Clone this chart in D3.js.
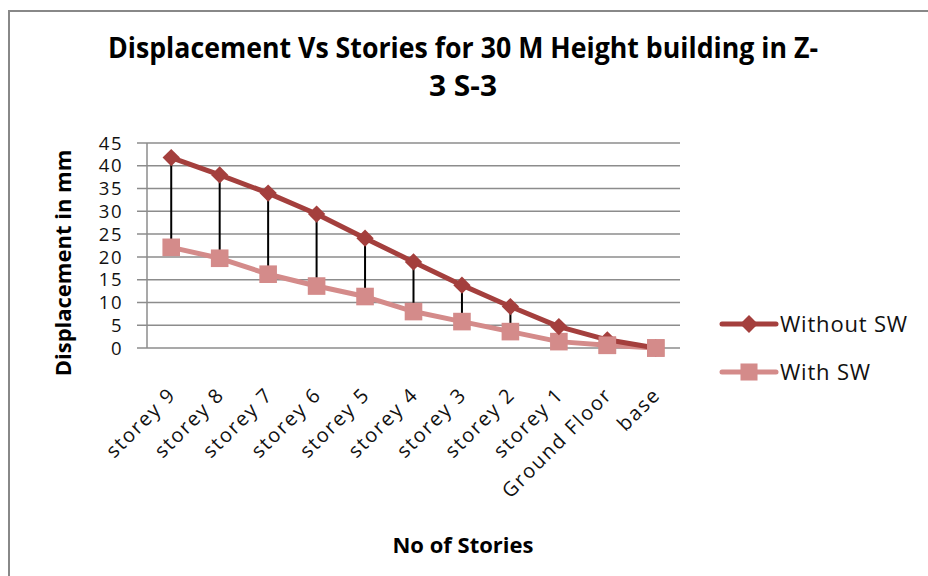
<!DOCTYPE html>
<meta charset="utf-8">
<script src="https://d3js.org/d3.v7.min.js"></script>
<style>
body { margin: 0; background: #fff; }
text { font-family: "Open Sans", sans-serif; }
</style>
<svg id="chart" width="928" height="576"></svg>
<script>
// chart data
const stories = ["storey 9", "storey 8", "storey 7", "storey 6", "storey 5", "storey 4",
                 "storey 3", "storey 2", "storey 1", "Ground Floor", "base"]
const withoutSW = [41.8, 38.0, 34.0, 29.4, 24.1, 18.9, 13.8, 9.1, 4.7, 1.8, 0]
const withSW = [22.1, 19.7, 16.2, 13.6, 11.3, 8.0, 5.8, 3.6, 1.4, 0.6, 0]
const yTicks = [0, 5, 10, 15, 20, 25, 30, 35, 40, 45]

const svg = d3.select("#chart")

// outer frame (cut off at right and bottom)
svg.append("rect")
  .attr("x", 9).attr("y", 11)
  .attr("width", 940).attr("height", 600)
  .attr("fill", "white").attr("stroke", "#888").attr("stroke-width", 2)

const x = d3.scaleBand().domain(stories).range([147, 680])
const y = d3.scaleLinear().domain([0, 45]).range([348, 143])
const cx = d => x(d) + x.bandwidth() / 2

// gridlines
svg.append("g")
  .selectAll("line")
  .data(yTicks)
  .join("line")
    .attr("x1", 137).attr("x2", 680)
    .attr("y1", d => y(d)).attr("y2", d => y(d))
    .attr("stroke", "#8c8c8c").attr("stroke-width", 1.5)

// y axis line
svg.append("line")
  .attr("x1", 147).attr("x2", 147)
  .attr("y1", y(45)).attr("y2", y(0))
  .attr("stroke", "#8c8c8c").attr("stroke-width", 1.5)

// y tick labels
svg.append("g")
  .selectAll("text")
  .data(yTicks)
  .join("text")
    .attr("x", 123).attr("y", d => y(d))
    .attr("dy", "0.36em")
    .attr("text-anchor", "end")
    .attr("font-family", "'Liberation Sans', Arial, sans-serif")
    .attr("font-size", 18.5)
    .attr("letter-spacing", 1.5)
    .attr("fill", "#111")
    .text(d => d)

// category labels
svg.append("g")
  .selectAll("text")
  .data(stories)
  .join("text")
    .attr("transform", d => `translate(${cx(d) + 6},${396}) rotate(-45)`)
    .attr("text-anchor", "end")
    .attr("font-size", 20)
    .attr("letter-spacing", 1.8)
    .attr("fill", "#111")
    .text(d => d)

// high-low lines
svg.append("g")
  .selectAll("line")
  .data(stories)
  .join("line")
    .attr("x1", d => cx(d)).attr("x2", d => cx(d))
    .attr("y1", (d, i) => y(withoutSW[i])).attr("y2", (d, i) => y(withSW[i]))
    .attr("stroke", "#000").attr("stroke-width", 2)

const line = d3.line().x(d => cx(d[0])).y(d => y(d[1]))
const colWithout = "#a43f3d"
const colWith = "#d48b8a"

function drawSeries(vals, color, size, rot) {
  const pts = stories.map((s, i) => [s, vals[i]])
  svg.append("path")
    .datum(pts)
    .attr("d", line)
    .attr("fill", "none")
    .attr("stroke", color)
    .attr("stroke-width", 5)
    .attr("stroke-linejoin", "round")
  svg.append("g")
    .selectAll("path")
    .data(pts)
    .join("path")
      .attr("transform", d => `translate(${cx(d[0])},${y(d[1])}) rotate(${rot})`)
      .attr("d", d3.symbol(d3.symbolSquare, size))
      .attr("fill", color)
}

drawSeries(withSW, colWith, 310, 0)
drawSeries(withoutSW, colWithout, 150, 45)

// with-SW squares sit over the diamonds near the base
svg.append("g")
  .selectAll("path")
  .data(stories.slice(9))
  .join("path")
    .attr("transform", d => `translate(${cx(d)},${y(withSW[stories.indexOf(d)])})`)
    .attr("d", d3.symbol(d3.symbolSquare, 310))
    .attr("fill", colWith)

// legend
const legend = [
  { name: "Without SW", color: colWithout, size: 160, rot: 45 },
  { name: "With SW", color: colWith, size: 290, rot: 0 }
]
const lg = svg.append("g")
  .selectAll("g")
  .data(legend)
  .join("g")
    .attr("transform", (d, i) => `translate(722,${324 + i * 48})`)
lg.append("line")
  .attr("x1", 0).attr("x2", 54)
  .attr("stroke", d => d.color).attr("stroke-width", 5).attr("stroke-linecap", "round")
lg.append("path")
  .attr("transform", d => `translate(27,0) rotate(${d.rot})`)
  .attr("d", d => d3.symbol(d3.symbolSquare, d.size)())
  .attr("fill", d => d.color)
lg.append("text")
  .attr("x", 58).attr("dy", "0.36em")
  .attr("font-size", 22)
  .attr("letter-spacing", 0.8)
  .attr("fill", "#111")
  .text(d => d.name)

// title
svg.append("text")
  .attr("x", 463).attr("y", 58)
  .attr("text-anchor", "middle")
  .attr("font-size", 29).attr("font-weight", "bold")
  .attr("textLength", 710).attr("lengthAdjust", "spacingAndGlyphs")
  .text("Displacement Vs Stories for 30 M Height building in Z-")
svg.append("text")
  .attr("x", 463).attr("y", 96)
  .attr("text-anchor", "middle")
  .attr("font-size", 29).attr("font-weight", "bold")
  .attr("textLength", 68).attr("lengthAdjust", "spacingAndGlyphs")
  .text("3 S-3")

// axis titles
svg.append("text")
  .attr("transform", "translate(71,263) rotate(-90)")
  .attr("text-anchor", "middle")
  .attr("font-size", 22).attr("font-weight", "bold")
  .text("Displacement in mm")
svg.append("text")
  .attr("x", 463).attr("y", 553)
  .attr("text-anchor", "middle")
  .attr("font-size", 22).attr("font-weight", "bold")
  .text("No of Stories")
</script>
